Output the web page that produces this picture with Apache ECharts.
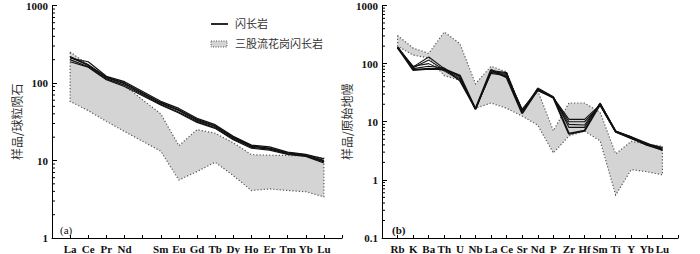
<!DOCTYPE html>
<html><head><meta charset="utf-8">
<script src="https://cdn.jsdelivr.net/npm/echarts@6/dist/echarts.min.js"></script>
<style>html,body{margin:0;padding:0;background:#fff}#c{width:700px;height:254px}</style>
</head><body><div id="c"></div>
<script>
// ---------- (a) Chondrite-normalised REE ----------
const reeNames = ['', 'La','Ce','Pr','Nd','','Sm','Eu','Gd','Tb','Dy','Ho','Er','Tm','Yb','Lu',''];
const reeX = [1,2,3,4,6,7,8,9,10,11,12,13,14,15];
const reeS1 = [210,188,122,104,58,47,35,29,20.5,15.8,15.0,12.8,12.0,10.5];
const reeS2 = [220,168,117,98,55,44,33,27.5,19.5,15.2,14.5,12.5,11.7,10.0];
const reeS3 = [200,162,113,94,53,42,32,26.5,19.0,14.8,14.0,12.2,11.5,9.6];
const reeS4 = [188,160,110,90,52,41,31,26,18.5,14.4,13.6,12.0,11.3,9.3];
const reeS5 = [215,172,119,100,56,45,34,28,20.0,15.5,14.2,12.6,11.8,9.9];
const reeBandUpper = [251,172,114,92,40,15.5,25,22.5,16.9,11.9,11.7,11.6,11.5,10.8];
const reeBandLower = [58,44,32,23.7,13.2,5.6,7.2,9.5,6.4,4.1,4.3,4.1,3.95,3.4];

// ---------- (b) Primitive-mantle-normalised trace elements ----------
const tNames = ['', 'Rb','K','Ba','Th','U','Nb','La','Ce','Sr','Nd','P','Zr','Hf','Sm','Ti','Y','Yb','Lu',''];
const tX = [1,2,3,4,5,6,7,8,9,10,11,12,13,14,15,16,17,18];
const tS1 = [190,78,82,80,62,16.5,78,58,14,36,26,6.2,7.0,20,6.8,5.4,4.0,3.3];
const tS2 = [195,88,130,82,58,16.5,72,68,15,35,26,11,11,19.5,6.7,5.2,4.1,3.5];
const tS3 = [185,85,115,78,55,17,70,65,16,37,25.5,10,10,19,6.6,5.1,4.0,3.4];
const tS4 = [188,90,100,75,52,16.8,68,62,16.5,34,26,9,8.8,20.5,6.9,5.3,4.2,3.6];
const tS5 = [192,82,90,84,50,16.5,76,70,14.5,38,27,8,8,21,6.8,5.5,4.3,3.2];
const tBandUpper = [305,185,150,350,220,45,90,72,15,34,7,21,21,14.5,2.8,4.6,4.1,3.8];
const tBandLower = [200,140,125,62,52,17,21,17,12.5,8.7,2.9,5.7,6.9,4.7,0.55,1.5,1.38,1.22];

const legendLine = '闪长岩';
const legendBand = '三股流花岗闪长岩';

function pairs(xs, ys){ return xs.map((x,i)=>[x, ys[i]]); }
function minorVals(lo, hi){ const a=[]; for(let d=lo; d<hi; d*=10){ for(let k=2;k<=9;k++) a.push(+(d*k).toPrecision(3)); } return a; }

const serif = 'Liberation Serif';
const cjk = 'Noto Sans CJK SC';

function bandSeries(ai, xs, up, lo){
  return {type:'custom', xAxisIndex:ai, yAxisIndex:ai, z:1, silent:true, clip:false,
    data:[[xs[0], up[0]]],
    renderItem:function(p, api){
      const pts=[];
      for(let i=0;i<xs.length;i++) pts.push(api.coord([xs[i], up[i]]));
      for(let i=xs.length-1;i>=0;i--) pts.push(api.coord([xs[i], lo[i]]));
      return {type:'polygon', shape:{points:pts},
        style:{fill:'#d4d4d4', stroke:'#555', lineWidth:1.2, lineDash:[1.2,2]}};
    }};
}
function minorTickSeries(ai, vals){
  return {type:'custom', xAxisIndex:ai, yAxisIndex:ai, z:5, silent:true, clip:false,
    data: vals.map(v=>[0,v]),
    renderItem:function(p, api){
      const c = api.coord([0, api.value(1)]);
      return {type:'line', shape:{x1:c[0], y1:c[1], x2:c[0]+3, y2:c[1]}, style:{stroke:'#000', lineWidth:1}};
    }};
}
function lineSeries(ai, xs, ys, w){
  return {type:'line', xAxisIndex:ai, yAxisIndex:ai, z:3, data:pairs(xs, ys), symbol:'none',
    lineStyle:{color:'#111', width:w}, silent:true, animation:false};
}
function xAxis(gi, max, names){
  return {type:'value', gridIndex:gi, min:0, max:max, interval:1,
    axisLine:{lineStyle:{color:'#000', width:1}},
    axisTick:{inside:true, length:3, lineStyle:{color:'#000'}},
    splitLine:{show:false},
    axisLabel:{formatter:v=>names[v]||'', fontFamily:serif, fontWeight:'bold', fontSize:11, color:'#111', margin:5, showMinLabel:true, showMaxLabel:true}};
}
function yAxis(gi, min, max, name){
  return {type:'log', gridIndex:gi, min:min, max:max, logBase:10,
    name:name, nameLocation:'middle', nameRotate:90, nameGap:22,
    nameTextStyle:{fontFamily:cjk, fontSize:12, color:'#333333'},
    axisLine:{show:true, lineStyle:{color:'#000', width:1}},
    axisTick:{inside:true, length:5, lineStyle:{color:'#000'}},
    splitLine:{show:false},
    axisLabel:{formatter:v=>String(+v.toPrecision(6)), fontFamily:serif, fontWeight:'bold', fontSize:11, color:'#111', margin:4}};
}

const chart = echarts.init(document.getElementById('c'), null, {renderer:'svg'});
chart.setOption({
  animation:false,
  grid:[{left:52, top:5, width:290, height:234},
        {left:382, top:5, width:296, height:235}],
  xAxis:[xAxis(0, 16, reeNames), xAxis(1, 19, tNames)],
  yAxis:[yAxis(0, 1, 1000, '样品/球粒陨石'), yAxis(1, 0.1, 1000, '样品/原始地幔')],
  series:[
    bandSeries(0, reeX, reeBandUpper, reeBandLower),
    lineSeries(0, reeX, reeS1, 1.2), lineSeries(0, reeX, reeS2, 1.2), lineSeries(0, reeX, reeS3, 1.2),
    lineSeries(0, reeX, reeS4, 1.2), lineSeries(0, reeX, reeS5, 1.4),
    minorTickSeries(0, minorVals(1, 1000)),
    bandSeries(1, tX, tBandUpper, tBandLower),
    lineSeries(1, tX, tS1, 2), lineSeries(1, tX, tS2, 1.1), lineSeries(1, tX, tS3, 1.1),
    lineSeries(1, tX, tS4, 1.1), lineSeries(1, tX, tS5, 1.1),
    minorTickSeries(1, minorVals(0.1, 1000))
  ],
  graphic:[
    {type:'line', shape:{x1:211, y1:24, x2:228, y2:24}, style:{stroke:'#111', lineWidth:1.8}},
    {type:'rect', shape:{x:211, y:41, width:16, height:6}, style:{fill:'#d4d4d4', stroke:'#555', lineWidth:1, lineDash:[1,1.5]}},
    {type:'text', left:235, top:17, style:{text:legendLine, font:'11px "Noto Sans CJK SC"', fill:'#333'}},
    {type:'text', left:235, top:37, style:{text:legendBand, font:'11px "Noto Sans CJK SC"', fill:'#333'}},
    {type:'text', left:60, top:224, style:{text:'(a)', font:'11px "Liberation Serif"', fill:'#111'}},
    {type:'text', left:392, top:224, style:{text:'(b)', font:'bold 11px "Liberation Serif"', fill:'#111'}}
  ]
});
</script></body></html>
